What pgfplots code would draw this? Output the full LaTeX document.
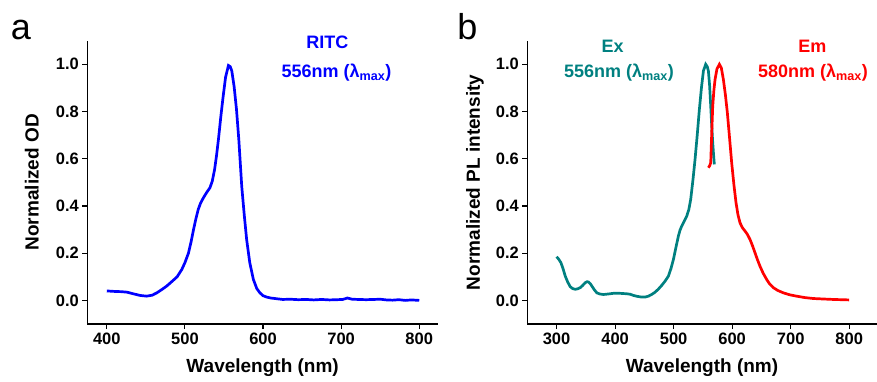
\documentclass[border=0pt]{standalone}
\usepackage{fontspec}
\setmainfont{Liberation Sans}
\usepackage{pgfplots}
\pgfplotsset{compat=1.18}
\definecolor{exc}{RGB}{0,128,128}
\definecolor{emc}{RGB}{255,0,0}
\definecolor{absc}{RGB}{0,0,255}
\pgfplotsset{
 common/.style={
  scale only axis, height=283.3pt,
  axis x line*=bottom, axis y line*=left,
  ymin=-0.1, ymax=1.1, ytick={0,0.2,0.4,0.6,0.8,1.0},
  /pgf/number format/assume math mode=true,
  tick label style={font=\fontsize{16.5}{16.5}\selectfont\bfseries},
  yticklabel style={/pgf/number format/.cd, fixed, fixed zerofill, precision=1},
  xticklabel style={/pgf/number format/1000 sep={}},
  label style={font=\fontsize{19}{19}\selectfont\bfseries},
  tick align=outside, major tick length=5pt,
  axis line style={line width=1.1pt},
  every tick/.style={black,line width=1.1pt},
  xlabel={Wavelength (nm)},
  xlabel style={at={(axis description cs:0.5,-0.155)},anchor=center},
  clip=false,
 }
}
\begin{document}
\begin{tikzpicture}[x=1pt,y=1pt]
\path[use as bounding box] (0,0) rectangle (877,381);
\node[anchor=base,font=\fontsize{36}{36}\selectfont] at (21,341.7) {a};
\node[anchor=base,font=\fontsize{36}{36}\selectfont] at (467.5,341.7) {b};
\begin{axis}[common, at={(87.3pt,57pt)}, anchor=south west, width=350.7pt,
  xmin=375, xmax=824, xtick={400,500,600,700,800},
  ylabel={Normalized OD},
  ylabel style={at={(axis description cs:-0.1585,0.5)},anchor=center}]
\addplot[absc, line width=2.7pt] coordinates {
(400,0.040)(410,0.038)(418,0.037)(425.6,0.035)(435,0.027)(442.6,0.021)(451,0.018)
(458,0.022)(464,0.032)(470,0.045)(476.8,0.061)(485,0.085)(490,0.100)(496,0.131)
(500,0.160)(504.5,0.200)(508,0.250)(511,0.300)(514,0.345)(517,0.385)(520,0.412)
(523.7,0.435)(528,0.458)(532,0.477)(535,0.505)(538,0.555)(540.5,0.615)(542.9,0.682)
(546,0.780)(549,0.866)(552,0.945)(555.7,0.995)(558,0.990)(560,0.972)(563,0.905)
(566,0.809)(569,0.680)(572.7,0.484)(576,0.360)(579,0.258)(583,0.160)(587.6,0.089)
(592,0.050)(596,0.032)(600,0.020)(604.7,0.014)(610,0.010)(617.5,0.007)(625,0.004)
(635,0.005)(645,0.003)(655,0.004)(665,0.002)(675,0.004)(685,0.002)(695,0.003)
(702,0.004)(708,0.010)(714,0.005)(722,0.004)(732,0.003)(742,0.004)(750,0.005)
(758,0.002)(766,0.001)(774,0.003)(782,0.000)(790,0.002)(800,0.000)
};
\node[text=absc,font=\fontsize{18}{18}\selectfont\bfseries] at (axis cs:682.5,1.093) {RITC};
\node[text=absc,font=\fontsize{18}{18}\selectfont\bfseries] at (axis cs:694,0.965) {556nm (λ\textsubscript{max})};
\end{axis}
\begin{axis}[common, at={(527.3pt,57pt)}, anchor=south west, width=349.4pt,
  xmin=250, xmax=847, xtick={300,400,500,600,700,800},
  ylabel={Normalized PL intensity},
  ylabel style={at={(axis description cs:-0.1497,0.5)},anchor=center}]
\addplot[exc, line width=2.7pt] coordinates {
(300,0.185)(303.5,0.175)(307.4,0.160)(311,0.135)(314.8,0.103)(319,0.078)(323.3,0.058)
(327.5,0.050)(331.9,0.047)(336,0.049)(340.4,0.054)(344.5,0.063)(348.9,0.075)(352,0.079)
(354.6,0.078)(357.5,0.071)(360.3,0.061)(364.5,0.045)(368.8,0.032)(374,0.027)(380.2,0.025)
(388,0.027)(397.3,0.030)(408,0.030)(420,0.028)(426,0.026)(431.4,0.021)(438,0.017)
(445.6,0.014)(451,0.014)(457,0.018)(462.5,0.025)(468.4,0.035)(474,0.048)(479.8,0.064)
(485.5,0.082)(491.1,0.103)(495.5,0.135)(499.7,0.174)(504,0.225)(508.2,0.273)(511,0.298)
(513.9,0.315)(518,0.335)(522.4,0.357)(526,0.385)(529.2,0.428)(533,0.510)(536.6,0.597)
(540.5,0.705)(544,0.809)(547.5,0.900)(550.9,0.972)(554.8,1.000)(557.5,0.990)(559.4,0.972)
(561.5,0.910)(563.4,0.823)(565,0.745)(566.8,0.668)(568.3,0.615)(569.6,0.576)
};
\addplot[emc, line width=2.7pt] coordinates {
(559.4,0.562)(561.5,0.570)(563.4,0.583)(565,0.700)(566.8,0.823)(568.8,0.890)
(570.8,0.936)(574,0.980)(578.2,1.000)(581.5,0.985)(585,0.936)(588.5,0.870)(591.8,0.795)
(595.5,0.690)(599.2,0.583)(603,0.490)(606.6,0.414)(610,0.362)(613.4,0.329)(617.5,0.308)
(621.9,0.294)(626,0.280)(630.5,0.258)(635,0.230)(639,0.202)(643,0.174)(647.5,0.145)
(653,0.115)(658.9,0.089)(664,0.070)(670.3,0.054)(678,0.042)(687.4,0.032)(698,0.024)
(710,0.018)(724,0.012)(738.5,0.008)(755,0.006)(772.6,0.004)(786,0.003)(800,0.002)
};
\node[text=exc,font=\fontsize{18}{18}\selectfont\bfseries] at (axis cs:395.7,1.078) {Ex};
\node[text=exc,font=\fontsize{18}{18}\selectfont\bfseries] at (axis cs:406.5,0.965) {556nm (λ\textsubscript{max})};
\node[text=emc,font=\fontsize{18}{18}\selectfont\bfseries] at (axis cs:737,1.078) {Em};
\node[text=emc,font=\fontsize{18}{18}\selectfont\bfseries] at (axis cs:738,0.965) {580nm (λ\textsubscript{max})};
\end{axis}
\end{tikzpicture}
\end{document}
